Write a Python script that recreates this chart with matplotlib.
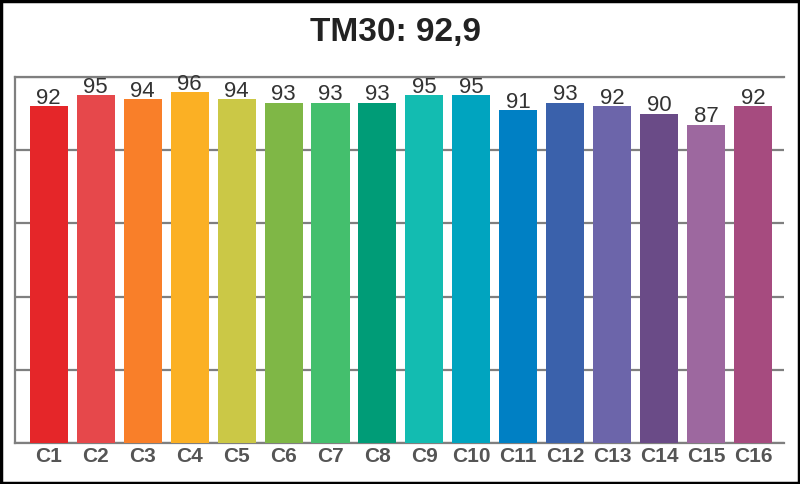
import matplotlib.pyplot as plt
from matplotlib.patches import Rectangle

plt.rcParams['font.family'] = ['Liberation Sans', 'DejaVu Sans']

categories = ['C%d' % i for i in range(1, 17)]
values = [92, 95, 94, 96, 94, 93, 93, 93, 95, 95, 91, 93, 92, 90, 87, 92]
colors = ['#E52629', '#E6484B', '#F97F29', '#FBB024', '#CBC846', '#7FB746',
          '#44BF6D', '#009C77', '#13BCB1', '#00A4BF', '#0080C4', '#3A61AB',
          '#6C65AA', '#6A4B87', '#9D689F', '#A64B7F']
title = 'TM30: 92,9'

fig = plt.figure(figsize=(8, 4.84), dpi=100)
ax = fig.add_axes([0.01875, 0.0847, 0.96125, 0.7563])

x = list(range(len(categories)))
bars = ax.bar(x, values, width=0.81, color=colors, zorder=3)

for xi, v in zip(x, values):
    ax.annotate(str(v), (xi, v), xytext=(0, 1.5), textcoords='offset points',
                ha='center', va='baseline', fontsize=16, color='#333333')

ax.set_xlim(-0.72, 15.66)
ax.set_ylim(0, 100)
ax.set_yticks([0, 20, 40, 60, 80, 100])
ax.set_yticklabels([])
ax.tick_params(axis='y', length=0)
ax.yaxis.grid(True, color='#7f7f7f', linewidth=1.6, zorder=0)
ax.set_axisbelow(True)

ax.set_xticks(x)
ax.set_xticklabels(categories, fontsize=15, fontweight='bold', color='#555555')
ax.tick_params(axis='x', length=0, pad=3)

for side in ['left', 'bottom', 'top']:
    ax.spines[side].set_color('#7f7f7f')
    ax.spines[side].set_linewidth(1.6)
ax.spines['right'].set_visible(False)

fig.text(0.494, 0.932, title, ha='center', va='center', fontsize=24,
         fontweight='bold', color='#222222')

# black frame around the picture
fig.patches.append(Rectangle((0.0015, 0.0025), 0.997, 0.995, transform=fig.transFigure,
                             fill=False, edgecolor='black', linewidth=2.5))

fig.savefig('out.png', dpi=100)
